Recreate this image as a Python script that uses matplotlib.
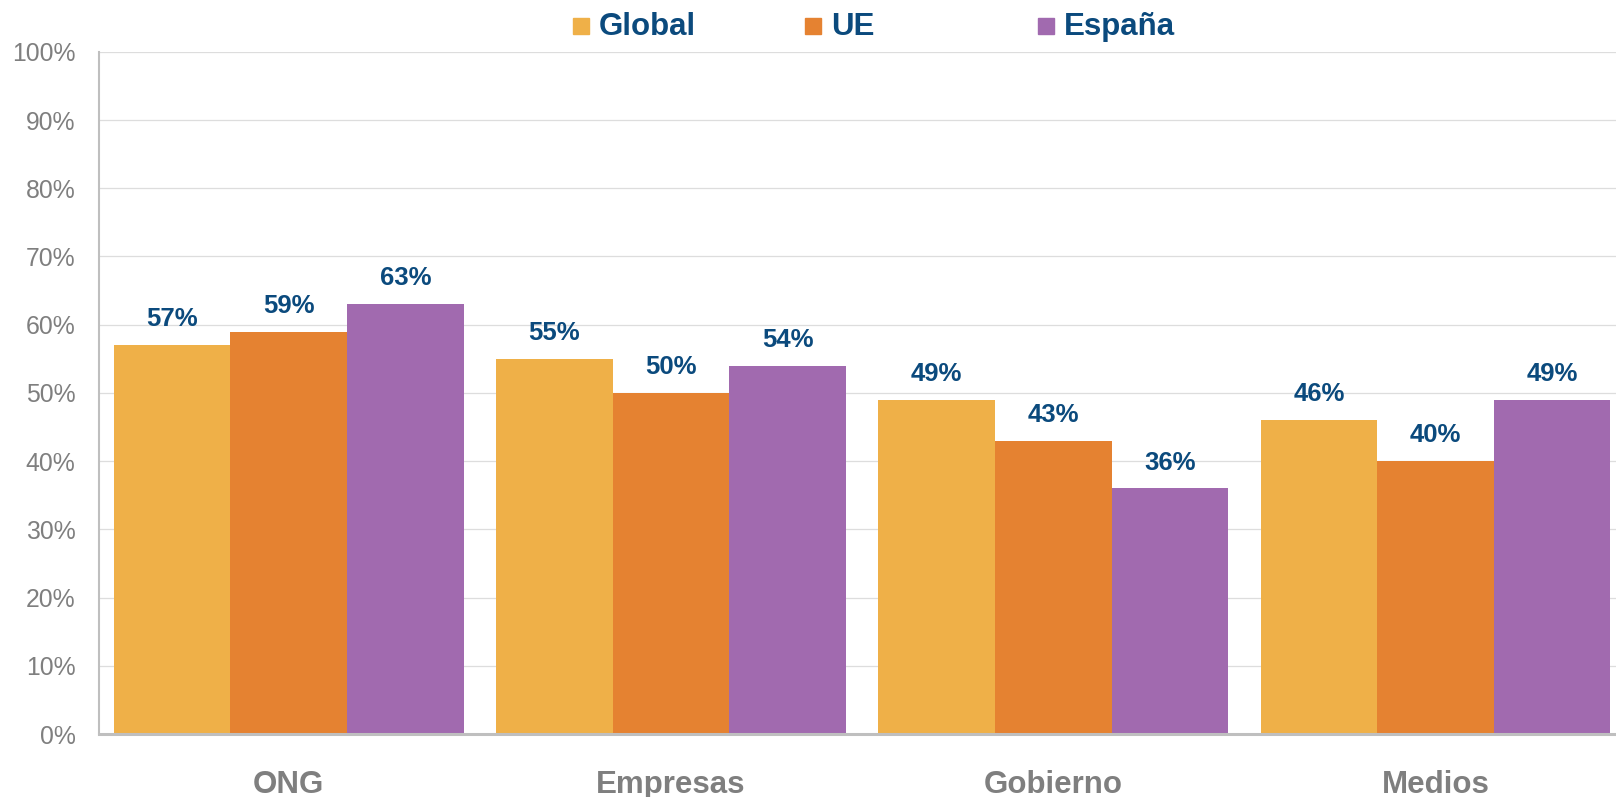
import matplotlib
matplotlib.use("Agg")
import matplotlib.pyplot as plt
from matplotlib.patches import Rectangle
import numpy as np

plt.rcParams['font.family'] = ['Liberation Sans', 'DejaVu Sans']

# Confidence by institution
categories = ['ONG', 'Empresas', 'Gobierno', 'Medios']
series = ['Global', 'UE', 'España']
global_vals = [57, 55, 49, 46]
ue_vals = [59, 50, 43, 40]
espana_vals = [63, 54, 36, 49]
colors = ['#EFB048', '#E58231', '#A16AAF']

label_color = '#0B4A7D'
gray = '#7F7F7F'

fig = plt.figure(figsize=(16.16, 7.97), dpi=100)
ax = fig.add_axes([0.0613, 0.079, 0.9387, 0.856])

x = np.arange(len(categories))
w = 0.305
for i, vals in enumerate([global_vals, ue_vals, espana_vals]):
    pos = x + (i - 1) * w
    ax.bar(pos, vals, width=w, color=colors[i], zorder=2)
    for px, v in zip(pos, vals):
        ax.annotate(f'{v}%', (px, v), xytext=(0, 10), textcoords='offset points',
                    ha='center', va='bottom', fontsize=18.5, fontweight='bold',
                    color=label_color)

ax.set_xlim(-0.496, 3.472)
ax.set_ylim(0, 100)
ax.set_yticks(range(0, 101, 10))
ax.set_yticklabels([f'{t}%' for t in range(0, 101, 10)], fontsize=17.8, color=gray)
ax.set_xticks(x)
ax.set_xticklabels(categories, fontsize=22.5, fontweight='bold', color=gray)
ax.tick_params(axis='x', length=0, pad=26)
ax.tick_params(axis='y', length=0, pad=17)

ax.grid(axis='y', color='#DDDDDD', lw=0.9, zorder=0)
for s in ['top', 'right']:
    ax.spines[s].set_visible(False)
ax.spines['left'].set_color('#BFBFBF')
ax.spines['left'].set_linewidth(1.5)
ax.spines['bottom'].set_color('#BFBFBF')
ax.spines['bottom'].set_linewidth(2.2)

# legend row across the top
x0, step = 0.3546, 0.1438
sq_w, sq_h = 16 / 1616, 16 / 797
for i, name in enumerate(series):
    lx = x0 + i * step
    fig.patches.append(Rectangle((lx, 0.967 - sq_h / 2), sq_w, sq_h,
                                 transform=fig.transFigure, color=colors[i]))
    fig.text(lx + 26 / 1616, 0.966, name, fontsize=22.5, fontweight='bold',
             color=label_color, va='center', ha='left')

fig.savefig('out.png', dpi=100)
